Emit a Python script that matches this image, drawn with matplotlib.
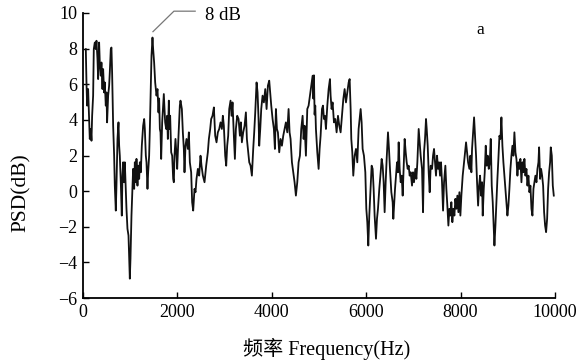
import matplotlib
matplotlib.use("Agg")
import matplotlib.pyplot as plt

freq_hz = [
    64, 78, 92, 113, 134, 148, 169, 184, 198, 219, 233, 254, 275, 290, 311, 325, 346, 360, 381, 395,
    417, 431, 452, 466, 487, 501, 515, 537, 558, 572, 593, 607, 621, 643, 664, 678, 699, 713, 735, 756,
    770, 784, 805, 826, 840, 855, 876, 890, 911, 925, 946, 968, 982, 996, 1010, 1031, 1052, 1066, 1088, 1102,
    1123, 1137, 1158, 1172, 1194, 1208, 1229, 1250, 1264, 1278, 1300, 1314, 1335, 1349, 1370, 1384, 1405, 1420, 1441, 1455,
    1476, 1490, 1511, 1533, 1561, 1582, 1603, 1617, 1632, 1646, 1660, 1681, 1716, 1744, 1766, 1787, 1801, 1822, 1836, 1850,
    1872, 1893, 1914, 1928, 1942, 1963, 1985, 1999, 2027, 2055, 2069, 2098, 2119, 2140, 2154, 2175, 2196, 2225, 2246, 2267,
    2295, 2316, 2338, 2366, 2387, 2408, 2437, 2465, 2493, 2514, 2543, 2578, 2613, 2648, 2670, 2698, 2719, 2747, 2776, 2804,
    2832, 2860, 2889, 2917, 2945, 2966, 2987, 3016, 3037, 3058, 3079, 3101, 3129, 3150, 3171, 3199, 3221, 3242, 3270, 3299,
    3327, 3348, 3369, 3397, 3426, 3454, 3475, 3496, 3525, 3553, 3581, 3609, 3630, 3652, 3680, 3701, 3722, 3736, 3758, 3779,
    3807, 3835, 3864, 3892, 3920, 3948, 3969, 3991, 4019, 4047, 4068, 4090, 4111, 4132, 4160, 4188, 4217, 4245, 4273, 4301,
    4330, 4358, 4379, 4400, 4429, 4457, 4485, 4513, 4542, 4570, 4598, 4626, 4655, 4676, 4697, 4725, 4754, 4782, 4810, 4838,
    4867, 4881, 4895, 4909, 4923, 4937, 4966, 4994, 5015, 5036, 5065, 5086, 5107, 5128, 5149, 5178, 5206, 5234, 5248, 5269,
    5290, 5319, 5347, 5375, 5404, 5432, 5460, 5488, 5517, 5545, 5573, 5601, 5630, 5651, 5672, 5686, 5707, 5728, 5757, 5785,
    5813, 5841, 5863, 5884, 5905, 5926, 5954, 5983, 6004, 6025, 6046, 6067, 6096, 6117, 6138, 6159, 6180, 6209, 6230, 6251,
    6279, 6308, 6329, 6350, 6371, 6392, 6414, 6435, 6463, 6484, 6505, 6534, 6562, 6576, 6612, 6633, 6654, 6675, 6689, 6710,
    6732, 6753, 6774, 6795, 6816, 6838, 6859, 6880, 6901, 6922, 6944, 6972, 6993, 7014, 7042, 7064, 7085, 7113, 7134, 7155,
    7184, 7205, 7226, 7247, 7268, 7283, 7304, 7325, 7346, 7367, 7396, 7417, 7438, 7459, 7480, 7502, 7523, 7544, 7565, 7586,
    7607, 7629, 7650, 7678, 7699, 7720, 7742, 7763, 7784, 7805, 7826, 7848, 7869, 7890, 7911, 7932, 7954, 7975, 7996, 8017,
    8045, 8067, 8088, 8116, 8137, 8159, 8187, 8208, 8229, 8243, 8265, 8286, 8307, 8328, 8349, 8371, 8392, 8413, 8434, 8455,
    8469, 8491, 8512, 8533, 8554, 8575, 8597, 8618, 8639, 8660, 8681, 8702, 8717, 8738, 8759, 8780, 8801, 8823, 8844, 8865,
    8886, 8907, 8928, 8950, 8971, 8992, 9013, 9034, 9056, 9077, 9098, 9119, 9140, 9162, 9183, 9204, 9225, 9246, 9267, 9289,
    9310, 9331, 9352, 9373, 9395, 9416, 9437, 9458, 9479, 9501, 9522, 9543, 9564, 9585, 9607, 9628, 9649, 9663, 9684, 9705,
    9727, 9748, 9769, 9790, 9811, 9833, 9854, 9875, 9896, 9910, 9932, 9953, 9974,
]

psd_db = [
    7.97, 6.10, 4.80, 5.73, 4.05, 2.93, 3.49, 2.83, 4.23, 5.36, 7.97, 8.34, 7.97, 8.44, 7.41, 6.29, 8.34, 7.22, 6.48, 7.22,
    5.73, 6.85, 5.54, 6.10, 4.80, 5.54, 3.86, 5.36, 5.92, 6.66, 7.97, 8.06, 6.66, 3.67, 1.99, 0.31, -1.09, 0.31, 2.93, 3.86,
    2.55, 1.99, 0.50, -1.37, 0.87, 1.62, 0.50, 1.62, 0.13, -0.99, -2.11, -2.49, -3.79, -4.91, -3.79, -1.37, 0.13, 1.25, 0.13, 1.62,
    0.50, 1.81, 0.31, 1.43, 0.69, 1.62, 1.06, 2.55, 3.11, 3.67, 4.05, 3.49, 1.99, 1.62, 0.13, 1.06, 1.99, 3.49, 6.10, 7.60,
    8.62, 7.97, 7.22, 6.10, 5.36, 5.73, 4.42, 5.20, 3.49, 3.30, 1.81, 3.86, 5.45, 3.86, 3.49, 4.23, 2.93, 5.08, 3.49, 4.23,
    2.18, 1.99, 0.69, 0.50, 1.99, 2.93, 1.99, 1.25, 3.11, 4.80, 5.08, 4.61, 3.30, 2.37, 1.06, 2.55, 2.93, 2.37, 3.30, 1.62,
    1.06, -0.62, -1.09, 0.13, -0.06, 0.69, 1.25, 0.87, 1.99, 1.43, 0.87, 0.50, 1.43, 2.18, 2.93, 3.49, 4.05, 4.23, 4.70, 3.11,
    2.74, 3.30, 3.49, 3.86, 3.49, 4.23, 3.67, 1.99, 1.43, 2.55, 3.11, 4.61, 5.08, 4.23, 4.98, 3.11, 1.81, 3.49, 4.23, 4.05,
    3.11, 3.86, 2.74, 3.30, 3.67, 4.42, 2.93, 2.37, 1.62, 1.43, 0.87, 2.37, 3.30, 4.42, 6.10, 5.54, 4.05, 2.55, 3.49, 4.61,
    5.36, 4.98, 5.73, 4.61, 5.92, 6.20, 5.54, 4.80, 4.05, 3.49, 2.37, 4.61, 3.49, 3.30, 2.18, 2.93, 2.55, 3.11, 3.49, 3.86,
    3.30, 4.61, 3.30, 2.93, 1.62, 1.06, 0.50, -0.25, 0.50, 1.62, 1.99, 3.49, 4.23, 2.93, 3.67, 1.99, 4.61, 4.80, 5.36, 5.92,
    6.48, 5.20, 6.50, 4.30, 4.80, 3.49, 2.18, 1.25, 2.37, 3.11, 4.61, 4.80, 4.05, 4.23, 3.49, 4.80, 5.73, 6.29, 5.36, 4.61,
    4.98, 3.86, 4.05, 3.30, 4.23, 3.67, 3.30, 4.23, 5.17, 5.73, 4.98, 5.54, 6.10, 6.29, 4.61, 2.93, 2.18, 0.87, 1.99, 2.37,
    1.62, 3.49, 4.05, 4.61, 3.86, 2.37, 1.99, 1.06, -0.99, -1.74, -3.05, -1.37, 0.31, 1.43, 1.25, 0.13, -1.37, -2.67, -1.55, -0.99,
    0.13, 1.06, 1.81, 1.43, 0.50, -1.18, 0.50, 1.81, 3.30, 2.37, 1.25, -0.06, -0.62, -1.55, 0.13, 0.87, 1.62, 1.06, 2.74, 1.25,
    0.50, 0.87, -0.25, 1.43, 2.93, 2.18, 1.62, 1.25, 1.43, 0.87, 1.06, 0.31, 1.06, 0.50, 1.25, 0.69, 1.62, 3.49, 2.74, 1.99,
    1.25, -1.18, 2.18, 2.93, 4.05, 3.49, 2.55, 1.06, -0.06, 1.43, 1.25, 1.99, 2.37, 1.62, 0.87, 1.99, 1.25, 1.62, 0.87, 1.62,
    0.50, -1.09, 0.50, 1.43, 0.13, -0.81, -1.93, -0.99, -1.37, -0.62, -1.74, -0.99, -1.37, -0.43, -0.99, -0.25, -1.18, -0.06, -1.37, -0.25,
    0.87, 1.43, 1.99, 2.74, 2.18, 1.62, 1.25, 1.99, 1.06, 2.37, 3.30, 4.14, 3.11, 1.99, 0.50, -0.81, 0.31, 0.87, -0.25, 0.50,
    -1.37, 0.13, 1.06, 2.55, 1.43, 1.99, 1.25, 1.62, 2.93, 0.31, -0.62, -2.11, -3.05, -1.93, -0.62, 0.69, 1.81, 3.11, 2.93, 4.14,
    2.55, 1.62, 0.87, 0.13, -0.62, -1.37, -0.81, 0.13, 1.25, 1.99, 2.55, 1.99, 3.30, 2.18, 1.81, 0.87, 1.62, 1.25, 1.81, 0.50,
    1.62, 1.06, 1.81, 0.87, 1.25, 0.31, 0.87, -0.06, 0.31, -0.99, -1.37, 0.13, 0.50, 0.87, 0.50, 1.25, 1.62, 2.46, 0.69, 1.25,
    0.87, 0.31, -1.18, -1.93, -2.30, -1.55, 0.13, 1.06, 1.62, 2.46, 1.99, 0.31, -0.25,
]

x_ticks = [0, 2000, 4000, 6000, 8000, 10000]
y_ticks = [-6, -4, -2, 0, 2, 4, 6, 8, 10]

peak_freq = 1476
peak_label = "8 dB"
panel_label = "a"
x_label = "频率 Frequency(Hz)"
y_label = "PSD(dB)"

plt.rcParams['font.family'] = ['Liberation Serif', 'Noto Sans CJK SC', 'DejaVu Sans']

fig = plt.figure(figsize=(5.83, 3.60), dpi=100)
ax = fig.add_axes([0.142, 0.172, 0.810, 0.792])

ax.plot(freq_hz, psd_db, color='#111111', lw=1.3)

ax.set_xlim(0, 10000)
ax.set_ylim(-6, 10)
ax.set_xticks(x_ticks)
ax.set_yticks(y_ticks)
ax.tick_params(direction='in', length=4, width=1, labelsize=13, pad=4)
for s in ['top', 'right']:
    ax.spines[s].set_visible(False)
for s in ['left', 'bottom']:
    ax.spines[s].set_linewidth(1.3)

ax.set_xlabel(x_label, fontsize=14.5)
ax.set_ylabel(y_label, fontsize=15.5)
ax.xaxis.set_label_coords(0.517, -0.14)
ax.yaxis.set_label_coords(-0.11, 0.37)

# annotation leader for the peak
ax.plot([peak_freq + 10, 1930, 2380], [8.95, 10.1, 10.1], color='#777777', lw=0.9, clip_on=False)
ax.text(2590, 9.85, peak_label, fontsize=13.5, va='center', ha='left')
ax.text(8420, 9.05, panel_label, fontsize=12.5, va='center', ha='center')

fig.savefig("out.png", dpi=100)
